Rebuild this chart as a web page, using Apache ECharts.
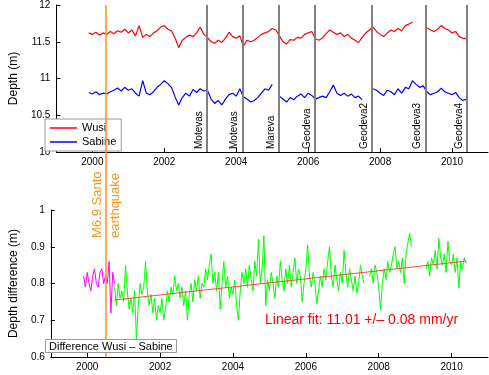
<!DOCTYPE html>
<html>
<head>
<meta charset="utf-8">
<script src="https://cdn.jsdelivr.net/npm/echarts@6/dist/echarts.min.js"></script>
<style>
html, body { margin: 0; padding: 0; background: #fff; }
#chart { width: 489px; height: 375px; }
</style>
</head>
<body>
<div id="chart"></div>
<script>
// x axis ticks (years)
const yearTicks = [2000, 2002, 2004, 2006, 2008, 2010]

// top panel: depth series, one value every 0.1 yr from 1999.9
const depthStart = 1999.9
const depthStep = 0.1
const wusi = [
  11.62, 11.60, 11.63, 11.59, 11.62, 11.60, 11.64, 11.61, 11.65, 11.63,
  11.67, 11.62, 11.66, 11.58, 11.72, 11.56, 11.60, 11.57, 11.62, 11.65,
  11.70, 11.72, 11.67, 11.65, 11.55, 11.42, 11.52, 11.56, 11.59, 11.57,
  11.62, 11.70, 11.60, 11.56, 11.50, 11.48, 11.52, 11.49, 11.55, 11.63,
  11.57, 11.55, 11.58, 11.44, 11.52, 11.50, 11.52, 11.56, 11.60, 11.62,
  11.64, 11.68, 11.66, 11.58, 11.50, 11.47, 11.53, 11.52, 11.56, 11.55,
  11.60, 11.62, 11.64, 11.54, 11.52, 11.55, 11.61, 11.66, 11.63, 11.60,
  11.62, 11.57, 11.60, 11.55, 11.52, 11.49, 11.56, 11.62, 11.66, 11.70,
  11.64, 11.60, 11.57, 11.62, 11.66, 11.64, 11.68, 11.65, 11.72, 11.74,
  11.77, null, null, null, 11.69, 11.66, 11.64, 11.67, 11.72, 11.68,
  11.66, 11.62, 11.64, 11.57, 11.55, 11.54
]
const sabine = [
  10.81, 10.79, 10.82, 10.78, 10.80, 10.79, 10.82, 10.84, 10.87, 10.83,
  10.88, 10.84, 10.86, 10.80, 10.76, 10.97, 10.80, 10.78, 10.82, 10.88,
  10.92, 10.97, 10.93, 10.88, 10.75, 10.64, 10.74, 10.80, 10.76, 10.85,
  10.81, 10.86, 10.83, 10.84, 10.72, 10.66, 10.70, 10.64, 10.72, 10.78,
  10.80, 10.76, 10.86, 10.75, 10.72, 10.68, 10.70, 10.74, 10.80, 10.86,
  10.84, 10.92, null, 10.76, 10.72, 10.68, 10.74, 10.71, 10.76, 10.79,
  10.74, 10.80, 10.77, 10.72, 10.74, 10.76, 10.74, 10.82, 10.91, 10.80,
  10.77, 10.80, 10.76, 10.79, 10.74, 10.76, 10.71, null, null, 10.86,
  10.84, 10.80, 10.77, 10.84, 10.82, 10.78, 10.86, 10.80, 10.88, 10.86,
  10.97, 10.92, 10.88, 10.90, 10.82, 10.78, 10.80, 10.82, 10.87, 10.82,
  10.80, 10.78, 10.81, 10.74, 10.70, 10.72
]

// bottom panel: difference, one value every 0.05 yr
const diffStep = 0.05
const beforeStart = 1999.9
const diffBefore = [
  0.82, 0.79, 0.83, 0.80, 0.78, 0.82, 0.84, 0.80, 0.79, 0.83,
  0.84, 0.80, 0.82, 0.80, 0.86, 0.72, 0.83, 0.80
]
const afterStart = 2000.75
const diffAfter = [
  0.79, 0.74, 0.80, 0.76, 0.78,
  0.75, 0.85, 0.78, 0.73, 0.76, 0.72, 0.78, 0.65, 0.74, 0.80, 0.77, 0.79, 0.86, 0.78, 0.74, 0.77, 0.72, 0.76, 0.70, 0.74,
  0.72, 0.76, 0.70, 0.73, 0.78, 0.75, 0.79, 0.77, 0.82, 0.78, 0.80, 0.76, 0.79, 0.74, 0.78, 0.70, 0.77, 0.80, 0.75, 0.81,
  0.78, 0.82, 0.76, 0.80, 0.79, 0.84, 0.81, 0.85, 0.88, 0.80, 0.83, 0.78, 0.83, 0.73, 0.80, 0.86, 0.79, 0.82, 0.76, 0.79,
  0.77, 0.81, 0.74, 0.70, 0.78, 0.83, 0.80, 0.84, 0.79, 0.85, 0.81, 0.78, 0.86, 0.82, 0.92, 0.80, 0.84, 0.93, 0.74, 0.81,
  0.78, 0.83, 0.80, 0.76, 0.82, 0.79, 0.86, 0.81, 0.78, 0.84, 0.80, 0.85, 0.79, 0.83, 0.87, 0.80, 0.84, 0.82, 0.75, 0.80,
  0.84, 0.905, 0.82, 0.79, 0.83, 0.80, 0.745, 0.78, 0.82, 0.79, 0.84, 0.81, 0.86, 0.90, 0.82, 0.79, 0.85, 0.81, 0.78, 0.83,
  0.80, 0.89, 0.83, 0.79, 0.84, 0.81, 0.78, 0.82, 0.774, 0.80, 0.85, 0.82, 0.80, null, null, 0.82, 0.84, 0.80, 0.85, 0.83,
  0.79, 0.728, 0.80, 0.84, 0.81, 0.86, 0.83, 0.85, 0.88, 0.90, 0.84, 0.86, 0.83, 0.87, 0.80, 0.88, 0.91, 0.937, 0.90, null,
  null, null, null, null, null, null, 0.84, 0.86, 0.82, 0.87, 0.85, 0.89, 0.84, 0.923, 0.87, 0.85, 0.88, 0.83, 0.914, 0.86,
  0.85, 0.88, 0.83, 0.87, 0.787, 0.86, 0.84, 0.87, 0.855
]
const fitYears = [2000.74, 2010.4]
const fitValues = [0.755, 0.861]

// events
const quakeYear = 2000.74
const instrumentNames = ['Motevas', 'Motevas', 'Mareva', 'Geodeva', 'Geodeva2', 'Geodeva3', 'Geodeva4']
const instrumentYears = [2003.19, 2004.17, 2005.19, 2006.19, 2007.78, 2009.26, 2010.41]

function toPairs(start, step, vals) {
  return vals.map((v, i) => [+(start + i * step).toFixed(2), v])
}

const font = 'Liberation Sans, Arial, sans-serif'

function xAxisFor(gridIndex, show) {
  return {
    type: 'value', gridIndex: gridIndex, min: 1999, max: 2011, show: show,
    axisLine: { lineStyle: { color: '#000' } },
    axisTick: { inside: true, length: 4, customValues: yearTicks, lineStyle: { color: '#000' } },
    axisLabel: { customValues: yearTicks, formatter: v => String(v), color: '#000', fontSize: 10, fontFamily: font, margin: 5 },
    splitLine: { show: false }
  }
}

function yAxisFor(gridIndex, min, max, interval, name, gap) {
  return {
    type: 'value', gridIndex: gridIndex, min: min, max: max, interval: interval,
    name: name, nameLocation: 'middle', nameGap: gap, nameRotate: 90,
    nameTextStyle: { color: '#000', fontSize: 12, fontFamily: font },
    axisLine: { show: true, lineStyle: { color: '#000' } },
    axisTick: { show: true, inside: true, length: 4, lineStyle: { color: '#000' } },
    axisLabel: { color: '#000', fontSize: 10, fontFamily: font, margin: 6 },
    splitLine: { show: false }
  }
}

const chart = echarts.init(document.getElementById('chart'))
chart.setOption({
  animation: false,
  backgroundColor: '#fff',
  title: [{
    text: 'Difference Wusi – Sabine', left: 45, top: 339,
    padding: [2, 4, 1, 4], borderColor: '#999', borderWidth: 1, backgroundColor: '#fff',
    textStyle: { fontSize: 11, fontWeight: 'normal', color: '#000', fontFamily: font }
  }, {
    text: 'Linear fit: 11.01 +/– 0.08 mm/yr', left: 265, top: 313, padding: 0,
    textStyle: { fontSize: 14, fontWeight: 'normal', color: '#ff0000', fontFamily: font }
  }],
  legend: {
    data: [{ name: 'Wusi', icon: 'rect' }, { name: 'Sabine', icon: 'rect' }],
    orient: 'vertical', left: 45, top: 119,
    padding: [3, 5, 3, 5], itemGap: 2, itemWidth: 27, itemHeight: 1.5,
    borderColor: '#999', borderWidth: 1, backgroundColor: '#fff',
    textStyle: { fontSize: 11, color: '#000', fontFamily: font, lineHeight: 12 }
  },
  grid: [
    { left: 41, top: 5, width: 447, height: 147 },
    { left: 41, top: 210, width: 447, height: 147 },
    { left: 41, top: 5, width: 447, height: 352 }
  ],
  xAxis: [xAxisFor(0, true), xAxisFor(1, true),
    { type: 'value', gridIndex: 2, min: 1999, max: 2011, show: false }],
  yAxis: [
    yAxisFor(0, 10, 12, 0.5, 'Depth (m)', 27),
    yAxisFor(1, 0.6, 1, 0.1, 'Depth difference (m)', 27),
    { type: 'value', gridIndex: 2, min: 0, max: 1, show: false }
  ],
  graphic: [{
    type: 'text', x: 97, y: 238, rotation: Math.PI / 2,
    style: { text: 'M6.9 Santo', fill: '#f7931e', fontSize: 13, fontFamily: font, textAlign: 'left', textVerticalAlign: 'middle' }
  }, {
    type: 'text', x: 115, y: 238, rotation: Math.PI / 2,
    style: { text: 'earthquake', fill: '#f7931e', fontSize: 13, fontFamily: font, textAlign: 'left', textVerticalAlign: 'middle' }
  }],
  series: [
    { name: 'Wusi', type: 'line', xAxisIndex: 0, yAxisIndex: 0, symbol: 'none',
      data: toPairs(depthStart, depthStep, wusi), lineStyle: { color: '#ff0000', width: 1.2 }, itemStyle: { color: '#ff0000' } },
    { name: 'Sabine', type: 'line', xAxisIndex: 0, yAxisIndex: 0, symbol: 'none',
      data: toPairs(depthStart, depthStep, sabine), lineStyle: { color: '#0000ff', width: 1.2 }, itemStyle: { color: '#0000ff' } },
    { name: 'instruments', type: 'line', xAxisIndex: 0, yAxisIndex: 0, data: [],
      markLine: {
        silent: true, symbol: ['none', 'none'],
        lineStyle: { color: '#808080', width: 2, type: 'solid' },
        label: { show: true, position: 'insideStartTop', color: '#000', fontSize: 10, fontFamily: font, distance: 3 },
        data: instrumentYears.map((x, i) => ({ xAxis: x, label: { formatter: instrumentNames[i] } }))
      } },
    { name: 'before', type: 'line', xAxisIndex: 1, yAxisIndex: 1, symbol: 'none',
      data: toPairs(beforeStart, diffStep, diffBefore), lineStyle: { color: '#ff00ff', width: 1 } },
    { name: 'after', type: 'line', xAxisIndex: 1, yAxisIndex: 1, symbol: 'none',
      data: toPairs(afterStart, diffStep, diffAfter), lineStyle: { color: '#00ff00', width: 1 } },
    { name: 'fit', type: 'line', xAxisIndex: 1, yAxisIndex: 1, symbol: 'none',
      data: fitYears.map((x, i) => [x, fitValues[i]]), lineStyle: { color: '#ff4444', width: 1 } },
    { name: 'quake', type: 'line', xAxisIndex: 2, yAxisIndex: 2, data: [],
      markLine: {
        silent: true, symbol: ['none', 'none'], label: { show: false },
        lineStyle: { color: '#f7931e', width: 1.5, type: 'solid' },
        data: [{ xAxis: quakeYear }]
      } }
  ]
})
</script>
</body>
</html>
